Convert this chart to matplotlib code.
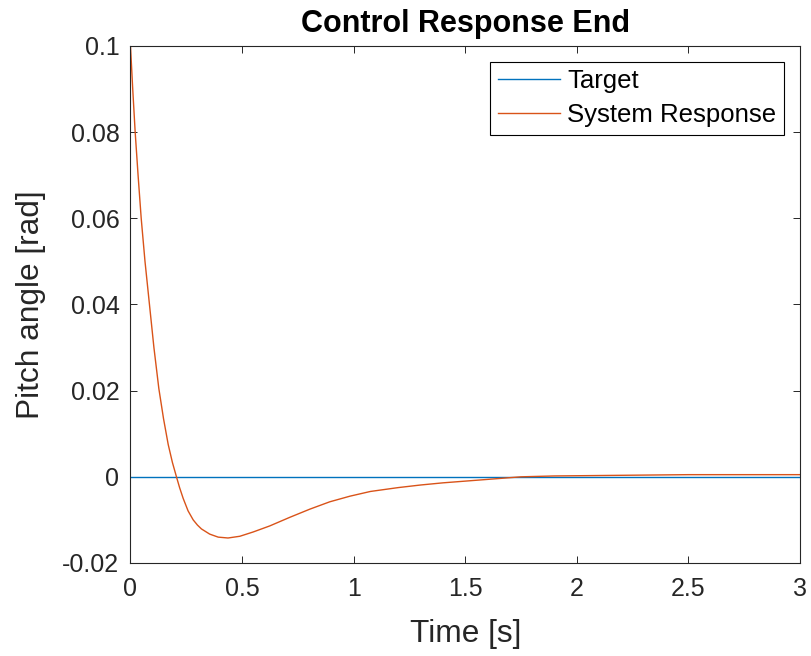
import matplotlib.pyplot as plt

plt.rcParams['font.family'] = ['Liberation Sans', 'DejaVu Sans']

# Data
time_s = [0.0, 0.010, 0.021, 0.034, 0.048, 0.065, 0.085, 0.105, 0.127, 0.148,
          0.169, 0.188, 0.206, 0.220, 0.236, 0.258, 0.281, 0.300, 0.318, 0.355,
          0.393, 0.437, 0.490, 0.550, 0.624, 0.714, 0.804, 0.893, 0.983, 1.075,
          1.200, 1.300, 1.400, 1.500, 1.600, 1.700, 1.750, 1.900, 2.100, 2.300,
          2.500, 2.750, 3.000]
response = [0.1000, 0.0900, 0.0800, 0.0700, 0.0600, 0.0500, 0.0400, 0.0300, 0.0205, 0.0135,
            0.0075, 0.0033, 0.0000, -0.0025, -0.0050, -0.0079, -0.0100, -0.0112, -0.0121, -0.0133,
            -0.0140, -0.0142, -0.0138, -0.0128, -0.0114, -0.0094, -0.0075, -0.0058, -0.0045, -0.0034,
            -0.0025, -0.0019, -0.0014, -0.0010, -0.0006, -0.0002, 0.0000, 0.0002, 0.0003, 0.0004,
            0.0005, 0.0005, 0.0005]
target_t = [0.0, 3.0]
target = [0.0, 0.0]

axis_col = '#262626'

fig = plt.figure(figsize=(8.12, 6.56), dpi=100)
ax = fig.add_axes([0.1607, 0.1418, 0.8245, 0.7881])

ax.plot(target_t, target, color='#0072BD', linewidth=1.0, label='Target')
ax.plot(time_s, response, color='#D95319', linewidth=1.0, label='System Response')

ax.set_xlim(0, 3)
ax.set_ylim(-0.02, 0.1)
ax.set_xticks([0, 0.5, 1, 1.5, 2, 2.5, 3])
ax.set_xticklabels(['0', '0.5', '1', '1.5', '2', '2.5', '3'])
ax.set_yticks([-0.02, 0, 0.02, 0.04, 0.06, 0.08, 0.1])
ax.set_yticklabels(['-0.02', '0', '0.02', '0.04', '0.06', '0.08', '0.1'])

ax.tick_params(direction='in', length=4.8, width=0.7, colors=axis_col,
               labelsize=18, top=True, right=True, pad=8)
ax.tick_params(axis='x', pad=10)
for sp in ax.spines.values():
    sp.set_color(axis_col)
    sp.set_linewidth(0.8)

ax.set_title('Control Response End', fontsize=22, fontweight='bold', pad=10)
ax.set_xlabel('Time [s]', fontsize=22.8, color=axis_col, labelpad=13)
ax.set_ylabel('Pitch angle [rad]', fontsize=22.8, color=axis_col, labelpad=12)

leg = ax.legend(loc='upper right', bbox_to_anchor=(784 / 812, 1 - 61.7 / 656),
                bbox_transform=fig.transFigure, fontsize=18.5, frameon=True,
                fancybox=False, framealpha=1, edgecolor='black', borderaxespad=0,
                handlelength=2.45, handletextpad=0.26, labelspacing=0.38,
                borderpad=0.3)
leg.get_frame().set_linewidth(0.8)

fig.savefig('out.png', dpi=100)
